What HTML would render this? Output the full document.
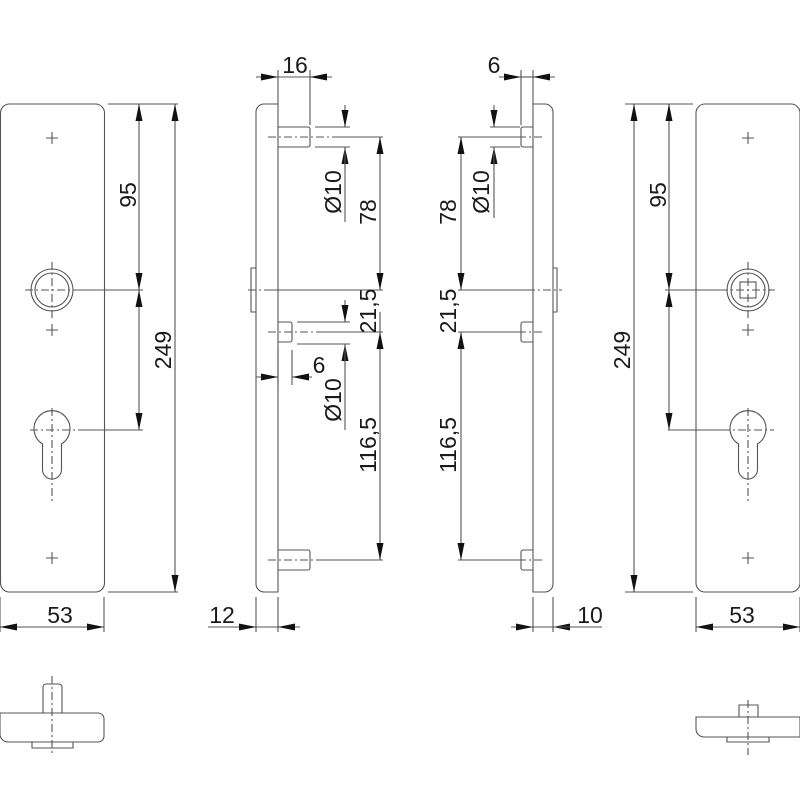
<!DOCTYPE html>
<html><head><meta charset="utf-8"><style>
html,body{margin:0;padding:0;background:#fff}
svg{display:block}
text{font-family:"Liberation Sans",sans-serif;font-size:23px;fill:#1a1a1a}
</style></head><body>
<svg width="800" height="800" viewBox="0 0 800 800" xmlns="http://www.w3.org/2000/svg">
<defs>
<marker id="a" viewBox="0 0 17 7" refX="17" refY="3.5" markerWidth="17" markerHeight="7" markerUnits="userSpaceOnUse" orient="auto-start-reverse"><path d="M0,0L17,3.5L0,7z" fill="#111"/></marker>
</defs>
<g fill="none" stroke="#555" stroke-width="1.1">
<!-- LEFT PLATE -->
<rect x="0.5" y="104" width="104" height="488" rx="9"/>
<path d="M46 138h12M52 132v12M46 330h12M52 324v12M46 558h12M52 552v12"/>
<circle cx="52" cy="290" r="21"/><circle cx="52" cy="290" r="17"/>
<path d="M25 290h55M52 262v56" stroke-dasharray="8,3,2,3"/>
<path d="M42.5 444 A18 18 0 1 1 61.5 444 V469.5 A9.5 9.5 0 0 1 42.5 469.5 Z"/>
<path d="M30 430h50M52 408v95" stroke-dasharray="8,3,2,3"/>
<path d="M108 104h70M80 290h63M78 430h65M108 592h70M0 597v35M104 597v35"/>
<line x1="139" y1="104" x2="139" y2="290" marker-start="url(#a)" marker-end="url(#a)"/>
<line x1="139" y1="290" x2="139" y2="430" marker-start="url(#a)" marker-end="url(#a)"/>
<line x1="175" y1="104" x2="175" y2="592" marker-start="url(#a)" marker-end="url(#a)"/>
<line x1="0" y1="627" x2="104" y2="627" marker-start="url(#a)" marker-end="url(#a)"/>

<!-- LEFT SIDE VIEW -->
<path d="M278 104H264a8 8 0 0 0-8 8V584a8 8 0 0 0 8 8H278Z"/>
<path d="M256 268h-5v44h5"/>
<path d="M278 127h30a2 2 0 0 1 2 2v16a2 2 0 0 1-2 2h-30"/>
<path d="M278 322h12a2 2 0 0 1 2 2v16a2 2 0 0 1-2 2h-12"/>
<path d="M278 550h30a2 2 0 0 1 2 2v16a2 2 0 0 1-2 2h-30"/>
<path d="M268 137h70M268 332h50M268 560h50M248 290h20" stroke-dasharray="8,3,2,3"/>
<path d="M338 137h45M268 290h115M318 332h65M318 560h65"/>
<path d="M278 70v34M310 70v55M315 127h35M315 147h35M297 322h53M297 344h53M278 350v35M292 350v35M256 597v35M278 597v35"/>
<line x1="256" y1="77" x2="278" y2="77" marker-end="url(#a)"/>
<line x1="332" y1="77" x2="310" y2="77" marker-end="url(#a)"/>
<line x1="278" y1="77" x2="310" y2="77"/>
<line x1="345" y1="105" x2="345" y2="127" marker-end="url(#a)"/>
<line x1="345" y1="169" x2="345" y2="147" marker-end="url(#a)"/>
<line x1="345" y1="147" x2="345" y2="222"/>
<line x1="345" y1="300" x2="345" y2="322" marker-end="url(#a)"/>
<line x1="345" y1="366" x2="345" y2="344" marker-end="url(#a)"/>
<line x1="345" y1="344" x2="345" y2="430"/>
<line x1="380" y1="137" x2="380" y2="290" marker-start="url(#a)" marker-end="url(#a)"/>
<line x1="380" y1="332" x2="380" y2="560" marker-start="url(#a)" marker-end="url(#a)"/>
<line x1="380" y1="332" x2="380" y2="312" />
<line x1="256" y1="377" x2="278" y2="377" marker-end="url(#a)"/>
<line x1="312" y1="377" x2="292" y2="377" marker-end="url(#a)"/>
<line x1="208" y1="627" x2="256" y2="627" marker-end="url(#a)"/>
<line x1="300" y1="627" x2="278" y2="627" marker-end="url(#a)"/>
<line x1="256" y1="627" x2="278" y2="627"/>

<!-- RIGHT SIDE VIEW -->
<path d="M533 104H545a8 8 0 0 1 8 8V584a8 8 0 0 1-8 8H533Z"/>
<path d="M553 268h4v44h-4"/>
<path d="M533 127h-10a2 2 0 0 0-2 2v16a2 2 0 0 0 2 2h10"/>
<path d="M533 322h-10a2 2 0 0 0-2 2v16a2 2 0 0 0 2 2h10"/>
<path d="M533 550h-10a2 2 0 0 0-2 2v16a2 2 0 0 0 2 2h10"/>
<path d="M518 137h25M518 332h25M518 560h25M527 290h35" stroke-dasharray="8,3,2,3"/>
<path d="M458 137h60M458 290h69M458 332h60M458 560h60"/>
<path d="M521 70v55M533 70v34M490 127h30M490 147h30M533 597v35M553 597v35"/>
<line x1="499" y1="77" x2="521" y2="77" marker-end="url(#a)"/>
<line x1="555" y1="77" x2="533" y2="77" marker-end="url(#a)"/>
<line x1="521" y1="77" x2="533" y2="77"/>
<line x1="494" y1="105" x2="494" y2="127" marker-end="url(#a)"/>
<line x1="494" y1="169" x2="494" y2="147" marker-end="url(#a)"/>
<line x1="494" y1="147" x2="494" y2="218"/>
<line x1="461" y1="137" x2="461" y2="290" marker-start="url(#a)" marker-end="url(#a)"/>
<line x1="461" y1="332" x2="461" y2="560" marker-start="url(#a)" marker-end="url(#a)"/>
<line x1="511" y1="627" x2="533" y2="627" marker-end="url(#a)"/>
<line x1="575" y1="627" x2="553" y2="627" marker-end="url(#a)"/>
<line x1="533" y1="627" x2="602" y2="627"/>

<!-- RIGHT PLATE -->
<rect x="696" y="104" width="104" height="488" rx="9"/>
<path d="M742 138h12M748 132v12M742 330h12M748 324v12M742 558h12M748 552v12"/>
<circle cx="748" cy="290" r="21"/><circle cx="748" cy="290" r="17"/>
<rect x="740" y="282" width="16" height="16"/>
<path d="M720 290h55M748 262v56" stroke-dasharray="8,3,2,3"/>
<path d="M738.5 444 A18 18 0 1 1 757.5 444 V469.5 A9.5 9.5 0 0 1 738.5 469.5 Z"/>
<path d="M722 430h52M748 408v95" stroke-dasharray="8,3,2,3"/>
<path d="M625 104h68M665 290h55M668 430h55M625 592h68M696 597v35M800 597v35"/>
<line x1="669" y1="104" x2="669" y2="290" marker-start="url(#a)" marker-end="url(#a)"/>
<line x1="669" y1="290" x2="669" y2="430" marker-start="url(#a)" marker-end="url(#a)"/>
<line x1="634" y1="104" x2="634" y2="592" marker-start="url(#a)" marker-end="url(#a)"/>
<line x1="696" y1="627" x2="800" y2="627" marker-start="url(#a)" marker-end="url(#a)"/>

<!-- BOTTOM VIEWS -->
<path d="M43 713V687a3 3 0 0 1 3-3h13a3 3 0 0 1 3 3v26"/>
<path d="M0 713h98a6 6 0 0 1 6 6v17a6 6 0 0 1-6 6H8a8 8 0 0 1-8-8Z"/>
<path d="M32 742v6h41v-6"/>
<path d="M52 676v80" stroke-dasharray="8,3,2,3"/>
<path d="M739 717v-12h19v12"/>
<path d="M696 717h104v20H704a8 8 0 0 1-8-8Z"/>
<path d="M727 737v5h42v-5"/>
<path d="M748 700v55" stroke-dasharray="8,3,2,3"/>
</g>

<!-- TEXT -->
<text x="60" y="623" text-anchor="middle">53</text>
<text x="742" y="623" text-anchor="middle">53</text>
<text x="222" y="623" text-anchor="middle">12</text>
<text x="590" y="623" text-anchor="middle">10</text>
<text x="295" y="73" text-anchor="middle">16</text>
<text x="494" y="73" text-anchor="middle">6</text>
<text x="319" y="373" text-anchor="middle">6</text>
<g text-anchor="middle">
<text transform="translate(136,195) rotate(-90)">95</text>
<text transform="translate(171,350) rotate(-90)">249</text>
<text transform="translate(341,192) rotate(-90)">Ø10</text>
<text transform="translate(376,212) rotate(-90)">78</text>
<text transform="translate(376,311) rotate(-90)">21,5</text>
<text transform="translate(341,400) rotate(-90)">Ø10</text>
<text transform="translate(376,445) rotate(-90)">116,5</text>
<text transform="translate(489,192) rotate(-90)">Ø10</text>
<text transform="translate(456,212) rotate(-90)">78</text>
<text transform="translate(456,311) rotate(-90)">21,5</text>
<text transform="translate(456,445) rotate(-90)">116,5</text>
<text transform="translate(666,195) rotate(-90)">95</text>
<text transform="translate(630,350) rotate(-90)">249</text>
</g>
</svg>
</body></html>
